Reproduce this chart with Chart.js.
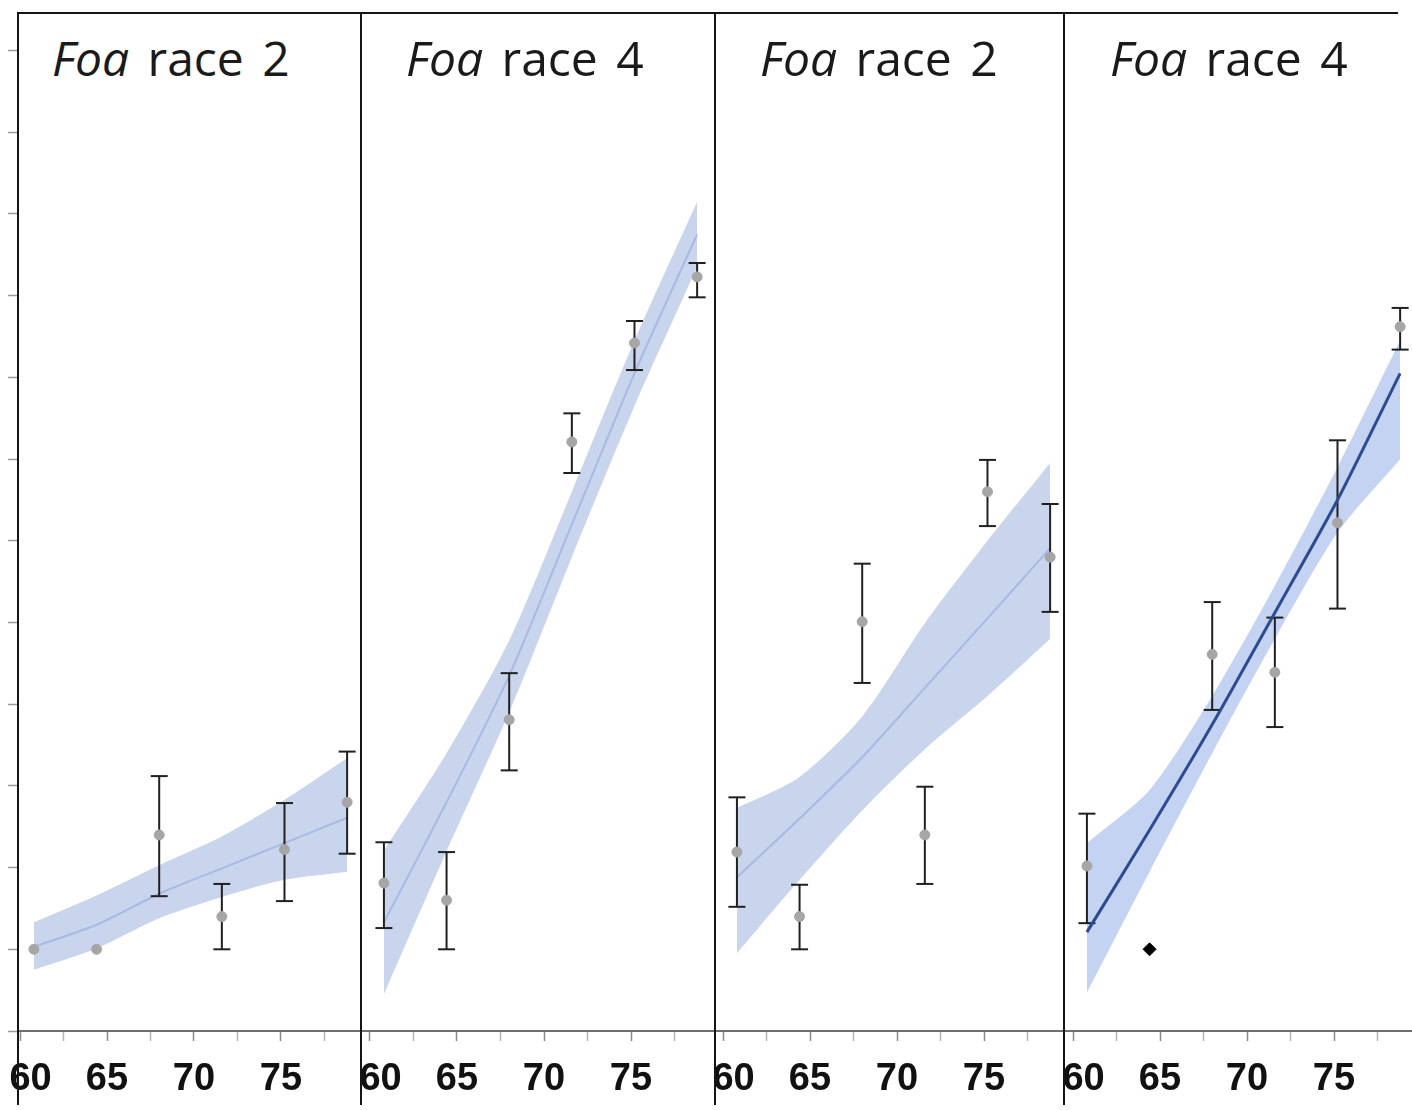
<!DOCTYPE html>
<html>
<head>
<meta charset="utf-8">
<script src="https://cdn.jsdelivr.net/npm/chart.js@4.4.1/dist/chart.umd.min.js"></script>
<style>
  html, body { margin: 0; padding: 0; background: #fff; }
  #wrap { position: relative; width: 1412px; height: 1110px; overflow: hidden; background: #fff; }
  #wrap canvas { position: absolute; left: 0; top: 0; }
  .ttl { position: absolute; top: 34px; font-family: "Open Sans", sans-serif; font-size: 48px;
         line-height: 48px; color: #1a1a1a; white-space: pre; word-spacing: 6px; }
  .ttl i { font-style: italic; }
</style>
</head>
<body>
<div id="wrap"></div>
<script>
// Incubation temperatures (°F)
const temps = [60.8, 64.4, 68.0, 71.6, 75.2, 78.8];
const xTickValues = [60, 62.5, 65, 67.5, 70, 72.5, 75, 77.5];
const yTickValues = [0, 1, 2, 3, 4, 5, 6, 7, 8, 9, 10, 11, 12];
const raceLabels = ['2', '4', '2', '4'];

// Panel A: Foa race 2
const race2aMean = [1.00, 1.00, 2.40, 1.40, 2.22, 2.80];
const race2aLow  = [null, null, 1.65, 1.00, 1.59, 2.17];
const race2aHigh = [null, null, 3.12, 1.80, 2.79, 3.42];
const race2aFit  = [1.03, 1.30, 1.68, 1.99, 2.30, 2.61];
const race2aBandHigh = [1.33, 1.66, 2.03, 2.38, 2.83, 3.34];
const race2aBandLow  = [0.75, 1.01, 1.38, 1.64, 1.85, 1.95];

// Panel B: Foa race 4
const race4aMean = [1.81, 1.60, 3.81, 7.21, 8.42, 9.23];
const race4aLow  = [1.26, 1.00, 3.19, 6.83, 8.09, 8.98];
const race4aHigh = [2.31, 2.19, 4.38, 7.56, 8.69, 9.40];
const race4aFit  = [1.33, 2.80, 4.35, 6.20, 8.05, 9.75];
const race4aBandHigh = [2.21, 3.40, 4.78, 6.60, 8.45, 10.15];
const race4aBandLow  = [0.45, 2.20, 3.90, 5.80, 7.65, 9.35];

// Panel C: Foa race 2
const race2bMean = [2.19, 1.40, 5.01, 2.40, 6.60, 5.80];
const race2bLow  = [1.52, 1.00, 4.26, 1.80, 6.18, 5.13];
const race2bHigh = [2.86, 1.79, 5.72, 2.99, 6.99, 6.45];
const race2bFit  = [1.88, 2.60, 3.35, 4.20, 5.05, 5.91];
const race2bBandHigh = [2.73, 3.11, 3.85, 4.99, 6.00, 6.95];
const race2bBandLow  = [0.95, 1.85, 2.70, 3.45, 4.10, 4.80];

// Panel D: Foa race 4
const race4bMean = [2.02, 1.00, 4.61, 4.39, 6.22, 8.62];
const race4bLow  = [1.32, null, 3.93, 3.72, 5.17, 8.34];
const race4bHigh = [2.66, null, 5.25, 5.06, 7.23, 8.85];
const race4bFit  = [1.21, 2.46, 3.75, 5.12, 6.50, 8.05];
const race4bBandHigh = [2.30, 2.95, 4.10, 5.45, 6.90, 8.45];
const race4bBandLow  = [0.47, 1.95, 3.40, 4.80, 6.10, 7.00];

const panelData = [
  { mean: race2aMean, lo: race2aLow, hi: race2aHigh, fit: race2aFit, bandHi: race2aBandHigh, bandLo: race2aBandLow },
  { mean: race4aMean, lo: race4aLow, hi: race4aHigh, fit: race4aFit, bandHi: race4aBandHigh, bandLo: race4aBandLow },
  { mean: race2bMean, lo: race2bLow, hi: race2bHigh, fit: race2bFit, bandHi: race2bBandHigh, bandLo: race2bBandLow },
  { mean: race4bMean, lo: race4bLow, hi: race4bHigh, fit: race4bFit, bandHi: race4bBandHigh, bandLo: race4bBandLow }
];

// Page geometry
const W = 1412, H = 1110;
const PLOT_TOP = 13, PLOT_BOTTOM = 1031;
const PX_PER_DEG = 17.4;
const Y_MAX = 12.46;
const panelBoxes = [
  { left: 18,   right: 361,  x60: 20,   titleX: 52,   showY: true,  darkFit: false, darkPoint: -1 },
  { left: 361,  right: 715,  x60: 370,  titleX: 406,  showY: false, darkFit: false, darkPoint: -1 },
  { left: 715,  right: 1064, x60: 723,  titleX: 760,  showY: false, darkFit: false, darkPoint: -1 },
  { left: 1064, right: 1412, x60: 1073, titleX: 1110, showY: false, darkFit: true,  darkPoint: 1, topTrim: 14 }
];

// Frame: panel divider running through the tick labels, plus the top rule
const framePlugin = {
  id: 'panelFrame',
  afterDraw(chart, args, opts) {
    const { ctx, chartArea: a } = chart;
    ctx.save();
    ctx.strokeStyle = '#151515';
    ctx.lineWidth = 2;
    ctx.beginPath();
    ctx.moveTo(a.left, a.top - 1);
    ctx.lineTo(a.left, a.bottom + 74);
    ctx.moveTo(a.left, a.top);
    ctx.lineTo(a.right - (opts.topTrim || 0), a.top);
    ctx.stroke();
    ctx.restore();
  }
};

const wrap = document.getElementById('wrap');
const pts = arr => temps.map((t, i) => ({ x: t, y: arr[i] }));

panelBoxes.forEach((box, k) => {
  const p = panelData[k];

  const title = document.createElement('div');
  title.className = 'ttl';
  title.style.left = box.titleX + 'px';
  title.innerHTML = '<i>Foa</i> race ' + raceLabels[k];
  wrap.appendChild(title);

  const canvas = document.createElement('canvas');
  canvas.width = W;
  canvas.height = H;
  wrap.appendChild(canvas);

  const curve = { tension: 0.25 };
  const datasets = [];
  datasets.push(Object.assign({
    data: pts(p.bandHi), borderWidth: 0, pointRadius: 0, fill: '+1',
    backgroundColor: box.darkFit ? 'rgba(192,209,240,0.95)' : 'rgba(198,210,236,0.95)', order: 10
  }, curve));
  datasets.push(Object.assign({
    data: pts(p.bandLo), borderWidth: 0, pointRadius: 0, fill: false, order: 11
  }, curve));
  datasets.push(Object.assign({
    data: pts(p.fit), pointRadius: 0, fill: false,
    borderColor: box.darkFit ? '#2d4b8e' : 'rgba(165,182,226,0.9)',
    borderWidth: box.darkFit ? 3 : 2,
    order: box.darkFit ? -1 : 6
  }, curve));
  temps.forEach((t, i) => {
    if (p.lo[i] == null || p.hi[i] == null) return;
    datasets.push({
      data: [{ x: t, y: p.lo[i] }, { x: t, y: p.hi[i] }],
      borderColor: '#202020', borderWidth: 2, fill: false, tension: 0,
      pointStyle: 'line', pointRadius: 8.5, pointBorderWidth: 2,
      pointBorderColor: '#202020', pointBackgroundColor: '#202020', order: 3
    });
  });
  datasets.push({
    data: pts(p.mean), showLine: false, fill: false,
    pointStyle: c => (c.dataIndex === box.darkPoint ? 'rectRot' : 'circle'),
    pointRadius: c => (c.dataIndex === box.darkPoint ? 6.5 : 5),
    pointBackgroundColor: c => (c.dataIndex === box.darkPoint ? '#000' : '#a6a6a6'),
    pointBorderColor: c => (c.dataIndex === box.darkPoint ? '#000' : '#a6a6a6'),
    pointBorderWidth: 1, order: 1
  });

  new Chart(canvas, {
    type: 'line',
    data: { datasets },
    plugins: [framePlugin],
    options: {
      responsive: false,
      animation: false,
      devicePixelRatio: 1,
      events: [],
      layout: {
        autoPadding: false,
        padding: { left: box.showY ? 0 : box.left, right: W - box.right, top: PLOT_TOP, bottom: 0 }
      },
      plugins: {
        legend: { display: false },
        tooltip: { enabled: false },
        filler: { drawTime: 'beforeDatasetsDraw' },
        panelFrame: { topTrim: box.topTrim || 0 }
      },
      scales: {
        x: {
          type: 'linear',
          min: 60 - (box.x60 - box.left) / PX_PER_DEG,
          max: 60 + (box.right - box.x60) / PX_PER_DEG,
          afterBuildTicks: s => { s.ticks = xTickValues.map(v => ({ value: v })); },
          afterFit: s => { s.height = H - PLOT_BOTTOM; s.paddingLeft = 0; s.paddingRight = 0; },
          border: { display: true, color: '#6f6f6f', width: 2 },
          grid: {
            drawOnChartArea: false, drawTicks: true, tickLength: 10, tickWidth: 1.5,
            tickColor: c => (c.tick && c.tick.value % 5 === 0 ? '#8a8a8a' : '#b5b5b5')
          },
          ticks: {
            autoSkip: false, maxRotation: 0, minRotation: 0, padding: 16,
            color: '#111',
            font: { family: 'Liberation Sans', size: 38, weight: 'bold' },
            callback: v => (v % 5 !== 0 ? '' : (v === 60 ? '  ' + v : String(v)))
          }
        },
        y: {
          type: 'linear',
          display: box.showY,
          min: 0,
          max: Y_MAX,
          afterBuildTicks: s => { s.ticks = yTickValues.map(v => ({ value: v })); },
          afterFit: s => { s.width = box.showY ? box.left : 0; s.paddingTop = 0; s.paddingBottom = 0; },
          border: { display: true, color: '#151515', width: 2 },
          grid: { drawOnChartArea: false, drawTicks: true, tickLength: 10, tickColor: '#9a9a9a', tickWidth: 1.5 },
          ticks: { display: false }
        }
      }
    }
  });
});
</script>
</body>
</html>
